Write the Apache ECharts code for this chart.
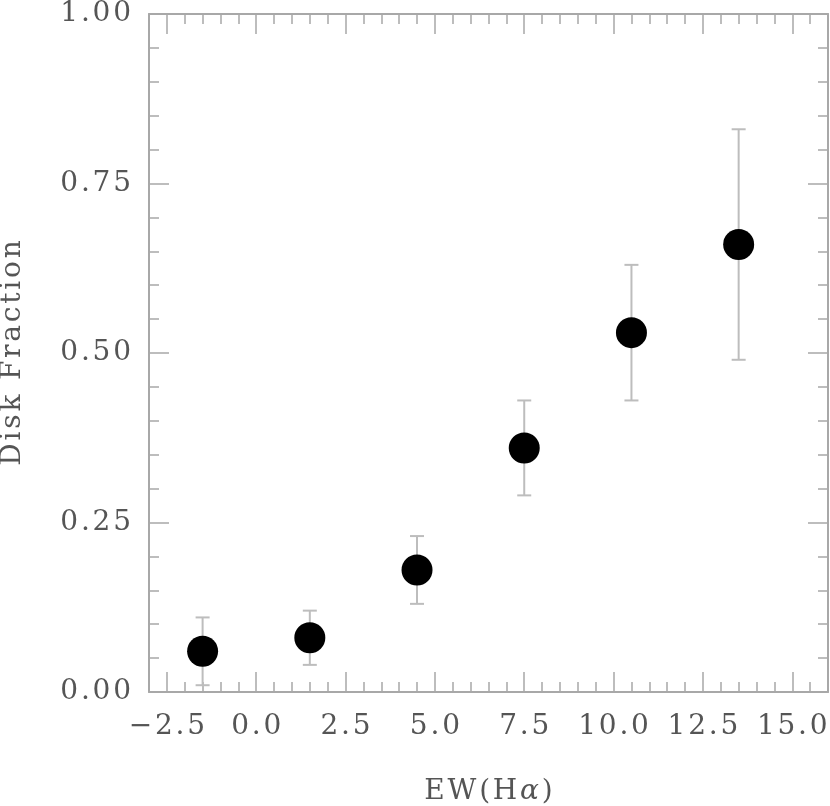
<!DOCTYPE html>
<html><head><meta charset="utf-8">
<script src="https://cdn.jsdelivr.net/npm/echarts@6/dist/echarts.min.js"></script>
<style>html,body{margin:0;padding:0;background:#fff}#c{width:830px;height:806px}</style>
</head><body><div id="c"></div>
<script>
const ewValues = [-1.5, 1.5, 4.5, 7.5, 10.5, 13.5];
const diskFraction = [0.06, 0.08, 0.18, 0.36, 0.53, 0.66];
const errLow = [0.01, 0.04, 0.13, 0.29, 0.43, 0.49];
const errHigh = [0.11, 0.12, 0.23, 0.43, 0.63, 0.83];
const xTickLabels = [-2.5, 0, 2.5, 5, 7.5, 10, 12.5, 15];
const yTickLabels = [0, 0.25, 0.5, 0.75, 1.0];

const font = 'DejaVu Serif';
const fs = 28;
const axisCol = '#a8a8a8';
const textCol = '#555';
const HS = '\u200A';
const spaced = s => s.split('').join(HS);

const points = ewValues.map((x, i) => [x, diskFraction[i]]);
const bars = ewValues.map((x, i) => [x, errLow[i], errHigh[i]]);

const gridBox = { left: 149, right: 2, top: 14, bottom: 114, outerBoundsMode: 'none', containLabel: false };

function minorX(pos) {
  return {
    type: 'value', gridIndex: 0, position: pos, min: -3, max: 16, interval: 0.5,
    axisLine: { show: true, onZero: false, lineStyle: { color: axisCol, width: 2 } },
    axisTick: { show: true, inside: true, length: 10, lineStyle: { color: axisCol, width: 1.5 } },
    splitLine: { show: false }, axisLabel: { show: false }
  };
}
function majorX(pos, show) {
  const ax = {
    type: 'value', gridIndex: 1, position: pos, min: -3, max: 16, interval: 2.5,
    axisLine: { show: false },
    axisTick: { show: true, inside: true, length: 20, customValues: xTickLabels,
      lineStyle: { color: axisCol, width: 1.5 } },
    splitLine: { show: false },
    axisLabel: { show: show, color: textCol, fontFamily: font, fontSize: fs, margin: 21,
      customValues: xTickLabels,
      formatter: v => spaced((v < 0 ? '\u2212' : '') + Math.abs(v).toFixed(1)) }
  };
  return ax;
}
function yAx(pos, show, grid) {
  return {
    type: 'value', gridIndex: grid, position: pos, min: 0, max: 1, interval: 0.25,
    axisLine: { show: true, onZero: false, lineStyle: { color: axisCol, width: 2 } },
    axisTick: { show: true, inside: true, length: 20, lineStyle: { color: axisCol, width: 1.5 } },
    minorTick: { show: true, splitNumber: 5, length: 10, lineStyle: { color: axisCol, width: 1.5 } },
    splitLine: { show: false },
    axisLabel: { show: show, color: textCol, fontFamily: font, fontSize: fs, margin: 18,
      customValues: yTickLabels,
      formatter: v => spaced(v.toFixed(2)) }
  };
}

const xMain = majorX('bottom', true);
xMain.name = '{n|' + spaced('EW(H') + HS + '}{a|\u03b1}{n|' + HS + ')}';
xMain.nameLocation = 'middle';
xMain.nameGap = 86;
xMain.nameTextStyle = { rich: {
  n: { fontFamily: font, fontSize: fs, color: textCol },
  a: { fontFamily: font, fontSize: fs, color: textCol, fontStyle: 'italic' } } };

const yMain = yAx('left', true, 0);
yMain.name = spaced('Disk Fraction');
yMain.nameLocation = 'middle';
yMain.nameGap = 122;
yMain.nameTextStyle = { fontFamily: font, fontSize: fs, color: textCol };

const yHidden = { type: 'value', gridIndex: 1, min: 0, max: 1, show: false };

const chart = echarts.init(document.getElementById('c'), null, { renderer: 'canvas' });
chart.setOption({
  animation: false,
  backgroundColor: '#fff',
  grid: [Object.assign({}, gridBox), Object.assign({}, gridBox)],
  xAxis: [minorX('bottom'), minorX('top'), xMain, majorX('top', false)],
  yAxis: [yMain, yAx('right', false, 0), yHidden],
  series: [
    {
      type: 'custom', xAxisIndex: 0, yAxisIndex: 0, z: 2,
      data: bars,
      renderItem: function (params, api) {
        const x = api.value(0);
        const lo = api.coord([x, api.value(1)]);
        const hi = api.coord([x, api.value(2)]);
        const cap = 7;
        const st = { stroke: '#bdbdbd', lineWidth: 2 };
        return { type: 'group', children: [
          { type: 'line', shape: { x1: lo[0], y1: lo[1], x2: hi[0], y2: hi[1] }, style: st },
          { type: 'line', shape: { x1: lo[0] - cap, y1: lo[1], x2: lo[0] + cap, y2: lo[1] }, style: st },
          { type: 'line', shape: { x1: hi[0] - cap, y1: hi[1], x2: hi[0] + cap, y2: hi[1] }, style: st }
        ]};
      }
    },
    {
      type: 'scatter', xAxisIndex: 0, yAxisIndex: 0, z: 3,
      data: points, symbol: 'circle', symbolSize: 31,
      itemStyle: { color: '#000', opacity: 1 }
    }
  ]
});
</script></body></html>
